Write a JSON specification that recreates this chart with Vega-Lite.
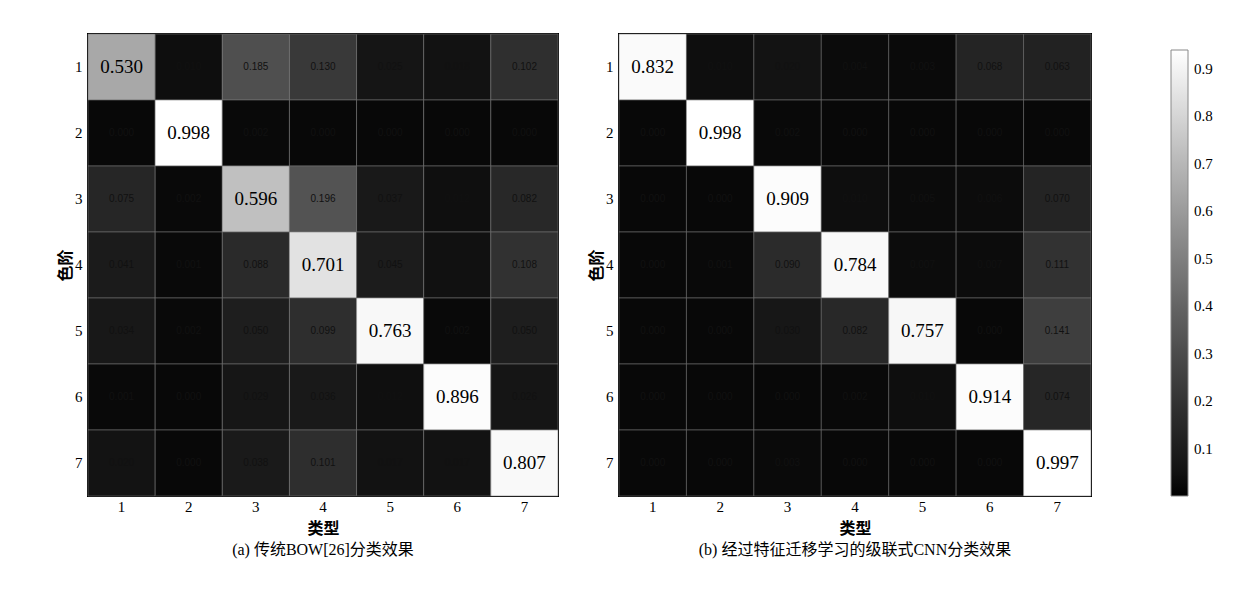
{
  "$schema": "https://vega.github.io/schema/vega-lite/v6.json",
  "background": "white",
  "padding": {"left": 56, "top": 32, "right": 5, "bottom": 5},
  "datasets": {
    "bow": [
      {"row": 1, "col": 1, "v": 0.530}, {"row": 1, "col": 2, "v": 0.010}, {"row": 1, "col": 3, "v": 0.185}, {"row": 1, "col": 4, "v": 0.130}, {"row": 1, "col": 5, "v": 0.025}, {"row": 1, "col": 6, "v": 0.018}, {"row": 1, "col": 7, "v": 0.102},
      {"row": 2, "col": 1, "v": 0.000}, {"row": 2, "col": 2, "v": 0.998}, {"row": 2, "col": 3, "v": 0.002}, {"row": 2, "col": 4, "v": 0.000}, {"row": 2, "col": 5, "v": 0.000}, {"row": 2, "col": 6, "v": 0.000}, {"row": 2, "col": 7, "v": 0.000},
      {"row": 3, "col": 1, "v": 0.075}, {"row": 3, "col": 2, "v": 0.002}, {"row": 3, "col": 3, "v": 0.596}, {"row": 3, "col": 4, "v": 0.196}, {"row": 3, "col": 5, "v": 0.037}, {"row": 3, "col": 6, "v": 0.012}, {"row": 3, "col": 7, "v": 0.082},
      {"row": 4, "col": 1, "v": 0.041}, {"row": 4, "col": 2, "v": 0.001}, {"row": 4, "col": 3, "v": 0.088}, {"row": 4, "col": 4, "v": 0.701}, {"row": 4, "col": 5, "v": 0.045}, {"row": 4, "col": 6, "v": 0.016}, {"row": 4, "col": 7, "v": 0.108},
      {"row": 5, "col": 1, "v": 0.034}, {"row": 5, "col": 2, "v": 0.002}, {"row": 5, "col": 3, "v": 0.050}, {"row": 5, "col": 4, "v": 0.099}, {"row": 5, "col": 5, "v": 0.763}, {"row": 5, "col": 6, "v": 0.002}, {"row": 5, "col": 7, "v": 0.050},
      {"row": 6, "col": 1, "v": 0.001}, {"row": 6, "col": 2, "v": 0.000}, {"row": 6, "col": 3, "v": 0.029}, {"row": 6, "col": 4, "v": 0.036}, {"row": 6, "col": 5, "v": 0.012}, {"row": 6, "col": 6, "v": 0.896}, {"row": 6, "col": 7, "v": 0.026},
      {"row": 7, "col": 1, "v": 0.020}, {"row": 7, "col": 2, "v": 0.000}, {"row": 7, "col": 3, "v": 0.038}, {"row": 7, "col": 4, "v": 0.101}, {"row": 7, "col": 5, "v": 0.017}, {"row": 7, "col": 6, "v": 0.017}, {"row": 7, "col": 7, "v": 0.807}
    ],
    "cnn": [
      {"row": 1, "col": 1, "v": 0.832}, {"row": 1, "col": 2, "v": 0.010}, {"row": 1, "col": 3, "v": 0.020}, {"row": 1, "col": 4, "v": 0.004}, {"row": 1, "col": 5, "v": 0.003}, {"row": 1, "col": 6, "v": 0.068}, {"row": 1, "col": 7, "v": 0.063},
      {"row": 2, "col": 1, "v": 0.000}, {"row": 2, "col": 2, "v": 0.998}, {"row": 2, "col": 3, "v": 0.002}, {"row": 2, "col": 4, "v": 0.000}, {"row": 2, "col": 5, "v": 0.000}, {"row": 2, "col": 6, "v": 0.000}, {"row": 2, "col": 7, "v": 0.000},
      {"row": 3, "col": 1, "v": 0.000}, {"row": 3, "col": 2, "v": 0.000}, {"row": 3, "col": 3, "v": 0.909}, {"row": 3, "col": 4, "v": 0.010}, {"row": 3, "col": 5, "v": 0.005}, {"row": 3, "col": 6, "v": 0.006}, {"row": 3, "col": 7, "v": 0.070},
      {"row": 4, "col": 1, "v": 0.000}, {"row": 4, "col": 2, "v": 0.001}, {"row": 4, "col": 3, "v": 0.090}, {"row": 4, "col": 4, "v": 0.784}, {"row": 4, "col": 5, "v": 0.007}, {"row": 4, "col": 6, "v": 0.007}, {"row": 4, "col": 7, "v": 0.111},
      {"row": 5, "col": 1, "v": 0.000}, {"row": 5, "col": 2, "v": 0.000}, {"row": 5, "col": 3, "v": 0.030}, {"row": 5, "col": 4, "v": 0.082}, {"row": 5, "col": 5, "v": 0.757}, {"row": 5, "col": 6, "v": 0.000}, {"row": 5, "col": 7, "v": 0.141},
      {"row": 6, "col": 1, "v": 0.000}, {"row": 6, "col": 2, "v": 0.000}, {"row": 6, "col": 3, "v": 0.000}, {"row": 6, "col": 4, "v": 0.002}, {"row": 6, "col": 5, "v": 0.010}, {"row": 6, "col": 6, "v": 0.914}, {"row": 6, "col": 7, "v": 0.074},
      {"row": 7, "col": 1, "v": 0.000}, {"row": 7, "col": 2, "v": 0.000}, {"row": 7, "col": 3, "v": 0.003}, {"row": 7, "col": 4, "v": 0.000}, {"row": 7, "col": 5, "v": 0.000}, {"row": 7, "col": 6, "v": 0.000}, {"row": 7, "col": 7, "v": 0.997}
    ]
  },
  "config": {
    "view": {"stroke": "black", "strokeWidth": 2},
    "axis": {
      "labelFont": "Liberation Serif", "labelFontSize": 15, "labelColor": "black",
      "domain": false, "ticks": false, "labelPadding": 6,
      "titleFont": "Noto Sans CJK SC", "titleFontSize": 16, "titleFontWeight": "bold", "titleColor": "black"
    },
    "title": {"font": "Liberation Serif, Noto Sans CJK SC", "fontSize": 16, "fontWeight": "normal", "orient": "bottom", "color": "black"},
    "concat": {"spacing": 27}
  },
  "hconcat": [
    {
      "width": 470, "height": 462,
      "title": {"text": "(a) 传统BOW[26]分类效果", "orient": "bottom", "offset": 6},
      "data": {"name": "bow"},
      "encoding": {
        "x": {"field": "col", "type": "ordinal", "axis": {"title": "类型", "labelAngle": 0, "labelPadding": 3, "titlePadding": 6}},
        "y": {"field": "row", "type": "ordinal", "axis": {"title": "色阶", "titlePadding": 1}}
      },
      "layer": [
        {
          "mark": {"type": "rect", "stroke": "#777", "strokeWidth": 0.8, "strokeOpacity": 0.7},
          "encoding": {"color": {"field": "v", "type": "quantitative",
            "scale": {"domain": [0, 0.05, 0.1, 0.2, 0.53, 0.6, 0.7, 0.76, 1], "range": ["#080808", "#1e1e1e", "#2e2e2e", "#555555", "#a8a8a8", "#c2c2c2", "#e2e2e2", "#f8f8f8", "#ffffff"]},
            "legend": null}}
        },
        {
          "transform": [{"filter": "datum.row != datum.col"}],
          "mark": {"type": "text", "font": "Liberation Sans", "fontSize": 10, "color": "#111"},
          "encoding": {"text": {"field": "v", "type": "quantitative", "format": ".3f"}}
        },
        {
          "transform": [{"filter": "datum.row == datum.col"}],
          "mark": {"type": "text", "font": "Liberation Serif", "fontSize": 19, "color": "black"},
          "encoding": {"text": {"field": "v", "type": "quantitative", "format": ".3f"}}
        }
      ]
    },
    {
      "width": 472, "height": 462,
      "title": {"text": "(b) 经过特征迁移学习的级联式CNN分类效果", "orient": "bottom", "offset": 6},
      "data": {"name": "cnn"},
      "encoding": {
        "x": {"field": "col", "type": "ordinal", "axis": {"title": "类型", "labelAngle": 0, "labelPadding": 3, "titlePadding": 6}},
        "y": {"field": "row", "type": "ordinal", "axis": {"title": "色阶", "titlePadding": 1}}
      },
      "layer": [
        {
          "mark": {"type": "rect"},
          "encoding": {"fill": {"field": "v", "type": "quantitative",
            "scale": {"domain": [0, 0.94], "range": ["#000000", "#ffffff"]},
            "legend": {"title": null, "orient": "right", "offset": 62, "padding": 16, "direction": "vertical",
              "gradientLength": 446, "gradientThickness": 17, "gradientStrokeColor": "#888", "gradientStrokeWidth": 1,
              "values": [0.1, 0.2, 0.3, 0.4, 0.5, 0.6, 0.7, 0.8, 0.9], "format": ".1f",
              "labelFont": "Liberation Serif", "labelFontSize": 15, "labelColor": "black", "labelOffset": 6, "labelOverlap": false}}}
        },
        {
          "mark": {"type": "rect", "stroke": "#777", "strokeWidth": 0.8, "strokeOpacity": 0.7},
          "encoding": {"color": {"field": "v", "type": "quantitative",
            "scale": {"domain": [0, 0.05, 0.1, 0.2, 0.53, 0.6, 0.7, 0.76, 1], "range": ["#080808", "#1e1e1e", "#2e2e2e", "#555555", "#a8a8a8", "#c2c2c2", "#e2e2e2", "#f8f8f8", "#ffffff"]},
            "legend": null}}
        },
        {
          "transform": [{"filter": "datum.row != datum.col"}],
          "mark": {"type": "text", "font": "Liberation Sans", "fontSize": 10, "color": "#111"},
          "encoding": {"text": {"field": "v", "type": "quantitative", "format": ".3f"}}
        },
        {
          "transform": [{"filter": "datum.row == datum.col"}],
          "mark": {"type": "text", "font": "Liberation Serif", "fontSize": 19, "color": "black"},
          "encoding": {"text": {"field": "v", "type": "quantitative", "format": ".3f"}}
        }
      ]
    }
  ]
}
